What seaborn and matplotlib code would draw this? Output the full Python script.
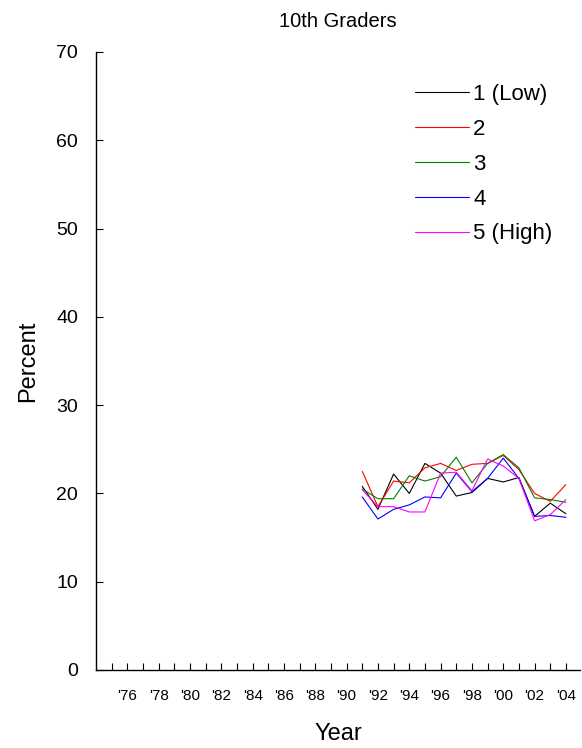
import numpy as np
import pandas as pd
import matplotlib
matplotlib.use('Agg')
import matplotlib.pyplot as plt
import seaborn as sns

# ============ DADOS ============
years = list(range(1991, 2005))
groups = ['1 (Low)', '2', '3', '4', '5 (High)']
colors = ['#000000', '#ff0000', '#008000', '#0000ff', '#ff00ff']

low1 = [20.8, 18.2, 22.2, 20.0, 23.4, 22.3, 19.7, 20.1, 21.7, 21.3, 21.8, 17.4, 18.9, 17.7]
g2 = [22.5, 18.5, 21.4, 21.2, 22.9, 23.4, 22.6, 23.3, 23.4, 24.3, 22.7, 20.0, 19.1, 21.0]
g3 = [20.5, 19.4, 19.4, 22.0, 21.4, 21.9, 24.1, 21.2, 23.4, 24.4, 22.9, 19.5, 19.3, 19.0]
g4 = [19.6, 17.1, 18.2, 18.7, 19.6, 19.5, 22.3, 20.2, 21.7, 24.0, 21.7, 17.4, 17.5, 17.3]
high5 = [20.4, 18.5, 18.5, 17.9, 17.9, 22.3, 22.4, 20.3, 23.9, 23.1, 21.7, 16.9, 17.6, 19.3]

tick_years = list(range(1975, 2005))
tick_labels = ["'%02d" % (y % 100) if y % 2 == 0 else '' for y in tick_years]
y_ticks = [0, 10, 20, 30, 40, 50, 60, 70]

df = pd.DataFrame({
    'Year': years * 5,
    'Percent': low1 + g2 + g3 + g4 + high5,
    'Group': sum([[g] * len(years) for g in groups], []),
})

# ============ GRÁFICO ============
sns.set_style('white')
plt.rcParams['font.family'] = ['Liberation Sans', 'DejaVu Sans']
plt.rcParams['text.color'] = 'black'
plt.rcParams['axes.labelcolor'] = 'black'

fig = plt.figure(figsize=(5.82, 7.48), dpi=100)
ax = fig.add_axes([96 / 582, 78 / 748, 484 / 582, 618 / 748])

sns.lineplot(data=df, x='Year', y='Percent', hue='Group', hue_order=groups,
             palette=colors, linewidth=0.8, ax=ax)

ax.set_xlim(1974, 2004.9)
ax.set_ylim(0, 70)
ax.set_xticks(tick_years)
ax.set_xticklabels(tick_labels, fontsize=11)
ax.set_yticks(y_ticks)
ax.set_yticklabels([str(v) for v in y_ticks], fontsize=14)
ax.tick_params(axis='x', bottom=True, direction='in', length=5, width=0.8, pad=14,
               colors='black')
ax.tick_params(axis='y', left=True, direction='in', length=5, width=0.8, pad=13,
               colors='black')

for side in ['top', 'right']:
    ax.spines[side].set_visible(False)
for side in ['left', 'bottom']:
    ax.spines[side].set_color('black')
    ax.spines[side].set_linewidth(1.0)

ax.set_xlabel('Year', fontsize=17, labelpad=14)
ax.set_ylabel('Percent', fontsize=17, labelpad=12)
ax.set_title('10th Graders', fontsize=14.5, pad=18)

ax.legend(loc='upper right', bbox_to_anchor=(0.975, 0.973), frameon=False,
          fontsize=16, handlelength=2.4, handletextpad=0.2, labelspacing=0.62,
          borderaxespad=0.3)

plt.savefig('out.png', dpi=100)
plt.close()
